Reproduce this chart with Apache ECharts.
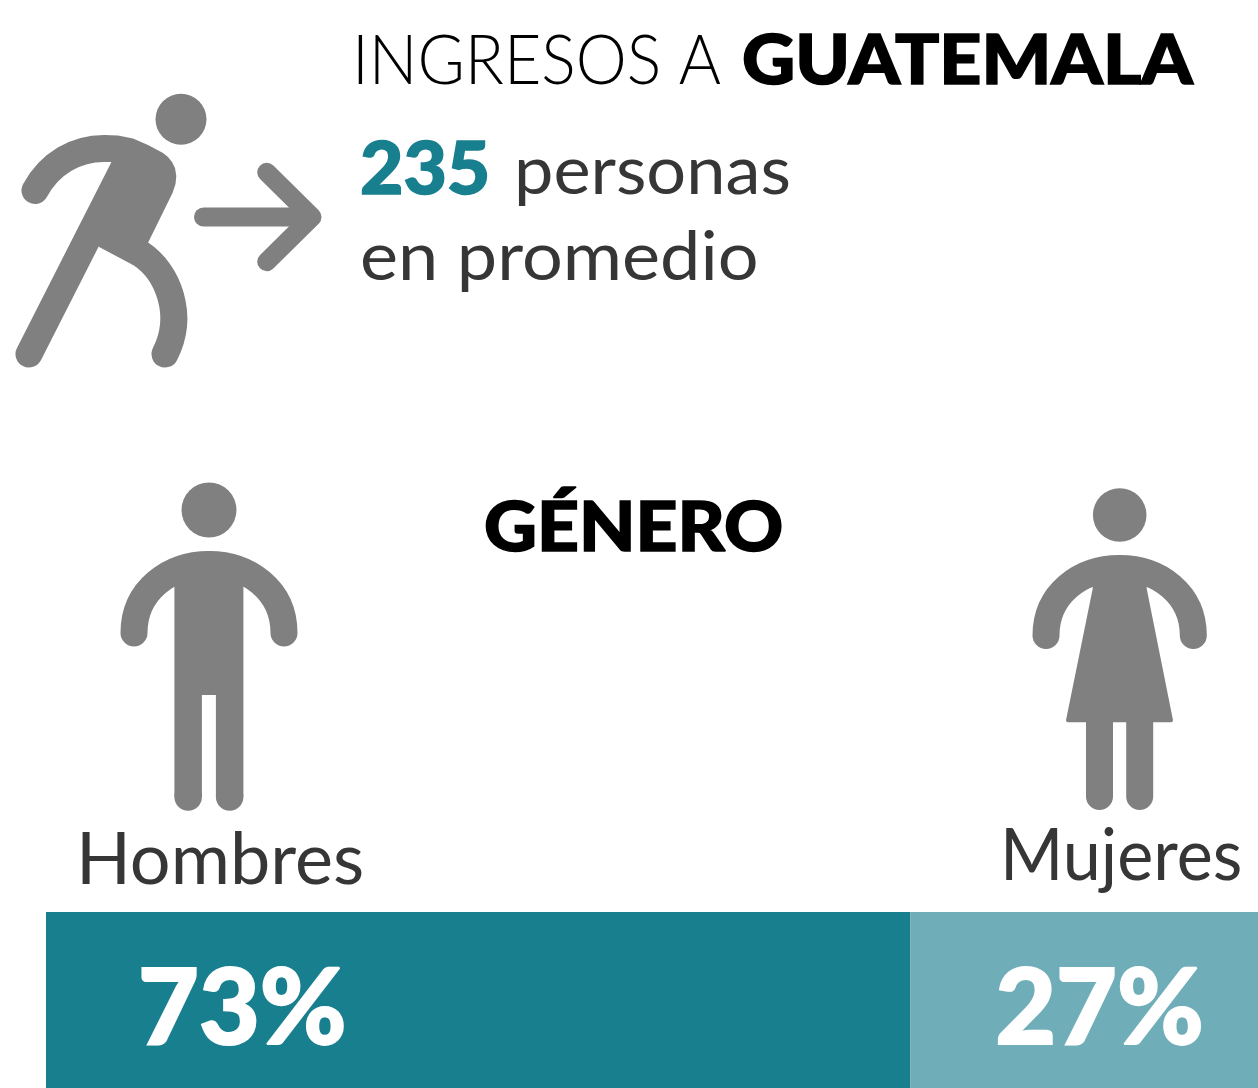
<!DOCTYPE html>
<html>
<head>
<meta charset="utf-8">
<title>Ingresos a Guatemala</title>
<style>
  html, body { margin: 0; padding: 0; background: #fff; }
  #main { width: 1258px; height: 1088px; }
</style>
<script src="https://cdn.jsdelivr.net/npm/echarts@6/dist/echarts.min.js"></script>
</head>
<body>
<div id="main"></div>
<script>
// values
const genderNames = ['Hombres', 'Mujeres']
const barShares = [71.3, 28.7] // drawn widths in the reference, not the printed numbers
const shareLabels = ['73%', '27%']
const averagePeople = ['235']

const GREY = '#808080'
const DARK = '#363636'
const TEAL = '#187f8f'
const TEAL_LIGHT = '#6fadb8'
const FONT = 'Lato, "Open Sans", sans-serif'

const myChart = echarts.init(document.getElementById('main'), null, { renderer: 'canvas' })

// helpers for the pictograms
const circle = (cx, cy, r) => ({ type: 'circle', shape: { cx, cy, r }, style: { fill: GREY }, silent: true })
const poly = (points, lineWidth = 0) => ({
  type: 'polygon',
  shape: { points },
  style: { fill: GREY, stroke: GREY, lineWidth, lineJoin: 'round' },
  silent: true
})
const limb = (points, lineWidth) => ({
  type: 'polyline',
  shape: { points },
  style: { stroke: GREY, fill: 'none', lineWidth, lineCap: 'round', lineJoin: 'round' },
  silent: true
})
const curve = (x1, y1, cpx1, cpy1, cpx2, cpy2, x2, y2, lineWidth) => ({
  type: 'bezierCurve',
  shape: { x1, y1, cpx1, cpy1, cpx2, cpy2, x2, y2 },
  style: { stroke: GREY, fill: 'none', lineWidth, lineCap: 'round' },
  silent: true
})
// baseline is the y of the text's baseline, outline thickens the bold words
const label = (text, x, baseline, size, weight, fill, scaleX = 1, outline = 0) => ({
  type: 'text',
  x,
  y: baseline - size * 0.81,
  scaleX,
  style: {
    text,
    font: `${weight} ${size}px ${FONT}`,
    fill,
    stroke: outline ? fill : null,
    lineWidth: outline,
    lineJoin: 'miter',
    align: 'left',
    verticalAlign: 'top'
  },
  silent: true
})

const runner = [
  circle(181, 119.3, 25.5),
  curve(35, 190.5, 50, 163, 76, 148.5, 104, 148.5, 27),
  poly([[103, 135], [118, 135.5], [133, 138.5], [148, 145], [163, 153], [168, 157], [172, 162], [175, 168], [176.3, 176], [175.5, 184], [172.5, 193], [148.3, 242.3], [133, 265], [98.7, 246.7], [111.7, 162], [103, 162]]),
  limb([[123.5, 168], [29, 354]], 27),
  curve(141, 254, 168, 272, 185, 315, 165, 354, 27),
  limb([[203.5, 217], [305, 217]], 19),
  limb([[266.7, 172.3], [312, 217], [266.7, 261.7]], 19)
]

const man = [
  circle(209, 510, 27.5),
  curve(134, 633, 134, 590, 170, 564.5, 209, 564.5, 27),
  curve(284, 633, 284, 590, 248, 564.5, 209, 564.5, 27),
  poly([[174.4, 562], [243.4, 562], [243.4, 797], [215.9, 797], [215.9, 695], [201.9, 695], [201.9, 797], [174.4, 797]]),
  circle(188.15, 797, 13.75),
  circle(229.65, 797, 13.75)
]

const woman = [
  circle(1119.7, 515, 26.8),
  curve(1046, 635.5, 1046, 594, 1080, 568.5, 1119.7, 568.5, 27),
  curve(1193.3, 635.5, 1193.3, 594, 1159, 568.5, 1119.7, 568.5, 27),
  poly([[1094.7, 570], [1144.7, 570], [1144.7, 589], [1171, 720.3], [1068, 720.3], [1094.7, 589]], 4),
  limb([[1099.5, 715], [1099.5, 796.5]], 27),
  limb([[1139.7, 715], [1139.7, 796.5]], 27)
]

const texts = [
  label('INGRESOS A', 352, 83, 68, 300, '#000', 0.948),
  label('GUATEMALA', 742, 83, 68, 900, '#000', 1.08, 1.5),
  label(averagePeople[0], 360, 193, 72, 900, TEAL, 1.04, 1.5),
  label('personas', 514, 193, 68, 400, DARK, 1.034),
  label('en promedio', 360, 279, 68, 400, DARK, 1.06),
  label('GÉNERO', 484, 550, 68, 900, '#000', 1.075, 1.5),
  label(genderNames[0], 76, 883, 72, 400, DARK),
  label(genderNames[1], 1000, 879, 72, 400, DARK, 0.948)
]

const option = {
  animation: false,
  grid: { left: 46, right: 0, top: 912, bottom: 0 },
  xAxis: { type: 'value', min: 0, max: 100, show: false },
  yAxis: { type: 'category', data: ['Género'], show: false },
  series: [TEAL, TEAL_LIGHT].map((color, i) => ({
    name: genderNames[i],
    type: 'bar',
    stack: 'genero',
    barWidth: '100%',
    data: [barShares[i]],
    silent: true,
    itemStyle: { color },
    label: {
      show: true,
      position: 'insideLeft',
      distance: i === 0 ? 92 : 85,
      offset: [0, 10],
      formatter: () => shareLabels[i],
      color: '#fff',
      fontFamily: FONT,
      fontWeight: 900,
      fontSize: 105,
      textBorderColor: '#fff',
      textBorderWidth: 2
    }
  })),
  graphic: { elements: [...runner, ...man, ...woman, ...texts] }
}

myChart.setOption(option)
</script>
</body>
</html>
